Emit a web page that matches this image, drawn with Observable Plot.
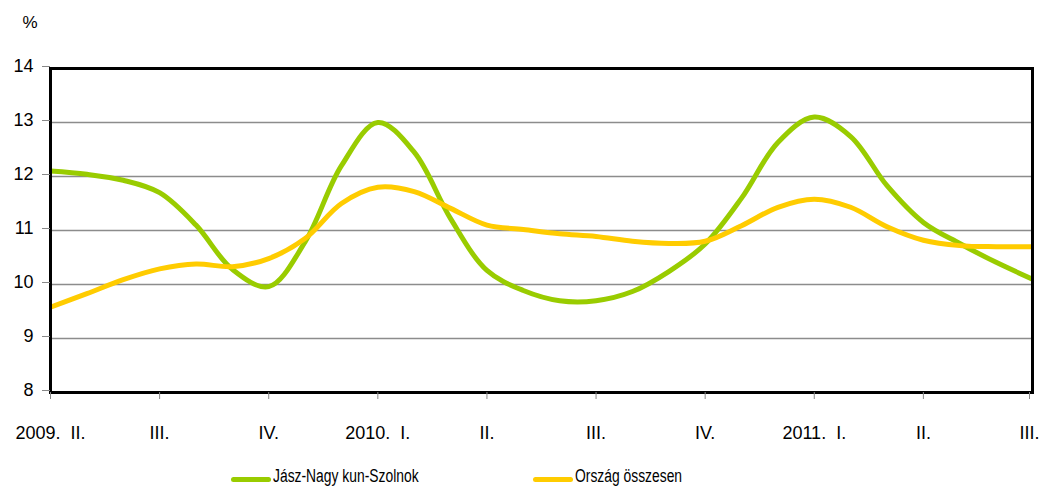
<!DOCTYPE html>
<html>
<head>
<meta charset="utf-8">
<script src="https://cdn.jsdelivr.net/npm/d3@7"></script>
<script src="https://cdn.jsdelivr.net/npm/@observablehq/plot@0.6"></script>
<style>
  body { margin: 0; background: #fff; font-family: "Liberation Sans", Arial, sans-serif; }
  #wrap { position: relative; width: 1040px; height: 487px; overflow: hidden; background: #fff; }
  #chart { position: absolute; left: 0; top: 0; }
  #legend { position: absolute; left: 0; top: 455px; width: 1040px; height: 32px; }
  .sw { position: absolute; width: 40px; height: 5px; border-radius: 3px; top: 22px; }
  .lt { position: absolute; top: 12px; font-size: 18px; line-height: 18px; white-space: nowrap;
        transform: scaleX(0.77); transform-origin: left center; color: #000; }
</style>
</head>
<body>
<div id="wrap">
  <div id="chart"></div>
  <div id="legend"></div>
</div>
<script>
// Quarter tick labels (each quarter = 3 monthly points)
const tickLabels = ["2009.\u00a0 II.", "III.", "IV.", "2010.\u00a0 I.", "II.", "III.", "IV.", "2011.\u00a0 I.", "II.", "III."];
const yTicks = [8, 9, 10, 11, 12, 13, 14];
const gridValues = [9, 10, 11, 12, 13];

const seriesNames = ["Jász-Nagy kun-Szolnok", "Ország összesen"];
const seriesColors = ["#99cc00", "#ffcc00"];

// Monthly values, 2009 Q2 start .. 2011 Q3
const jnszValues = [12.1, 12.04, 11.93, 11.7, 11.1, 10.28, 9.96, 10.79, 12.2, 13.0, 12.45, 11.22, 10.26, 9.89,
                    9.7, 9.7, 9.87, 10.24, 10.75, 11.6, 12.63, 13.1, 12.74, 11.83, 11.15, 10.76, 10.41, 10.1];
const orszagValues = [9.58, 9.83, 10.09, 10.29, 10.38, 10.33, 10.48, 10.85, 11.5, 11.8, 11.72, 11.41, 11.1, 11.02,
                      10.94, 10.89, 10.8, 10.76, 10.8, 11.09, 11.43, 11.58, 11.43, 11.07, 10.82, 10.72, 10.7, 10.7];

const tickPositions = tickLabels.map((_, i) => i * 3);
const font = '"Liberation Sans", Arial, sans-serif';

const chart = Plot.plot({
  width: 1040,
  height: 455,
  marginLeft: 50,
  marginRight: 8,
  marginTop: 68,
  marginBottom: 63,
  style: { fontFamily: font, fontSize: "18px", color: "#000", background: "#fff", overflow: "visible" },
  x: { domain: [0, jnszValues.length - 1] },
  y: { domain: [8, 14] },
  marks: [
    Plot.ruleY(gridValues, { stroke: "#8c8c8c", strokeWidth: 1.5 }),
    Plot.lineY(jnszValues, { x: (d, i) => i, y: d => d, stroke: seriesColors[0], strokeWidth: 5, curve: "catmull-rom", clip: true }),
    Plot.lineY(orszagValues, { x: (d, i) => i, y: d => d, stroke: seriesColors[1], strokeWidth: 5, curve: "catmull-rom", clip: true }),
    Plot.frame({ stroke: "#000", strokeWidth: 3 }),
    Plot.axisY({ ticks: yTicks, tickSize: 8, tickPadding: 9, stroke: "#888", fill: "#000", fontSize: 18, dy: -2, label: null, tickFormat: d => String(d) }),
    Plot.axisX({ ticks: tickPositions.slice(0, -1), tickFormat: d => tickLabels[Math.round(d / 3)], tickSize: 7, tickPadding: 27, stroke: "#888", fill: "#000", fontSize: 18, label: null }),
    Plot.axisX({ ticks: tickPositions.slice(-1), tickFormat: d => tickLabels[Math.round(d / 3)], tickSize: 7, tickPadding: 27, stroke: "#888", fill: "#000", fontSize: 18, label: null, dx: -3 }),
    Plot.text(["%"], { frameAnchor: "top-left", dx: -28, dy: -53, fontSize: 17, fill: "#000" })
  ]
});
document.getElementById("chart").appendChild(chart);

const legend = document.getElementById("legend");
const swLeft = [231, 533];
seriesNames.forEach((name, i) => {
  const sw = document.createElement("div");
  sw.className = "sw";
  sw.style.left = swLeft[i] + "px";
  sw.style.background = seriesColors[i];
  legend.appendChild(sw);
  const t = document.createElement("span");
  t.className = "lt";
  t.style.left = (swLeft[i] + 42) + "px";
  t.textContent = name;
  legend.appendChild(t);
});
</script>
</body>
</html>
